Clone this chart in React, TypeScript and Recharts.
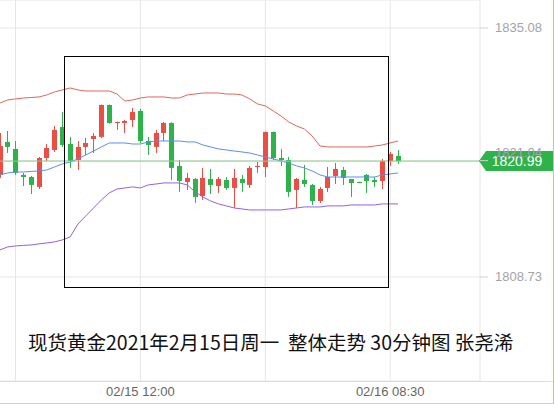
import React from 'react';
import {
  ComposedChart,
  Bar,
  Line,
  XAxis,
  YAxis,
  CartesianGrid,
  ReferenceLine,
} from 'recharts';

// 30分钟K线 (高开低收)
const opens = [
  1819.53, 1823.02, 1822.28, 1819.53, 1819.31, 1818.26, 1821.32, 1822.17, 1824.6, 1822.8,
  1821.11, 1822.49, 1823.33, 1823.55, 1826.93, 1825.03, 1825.03, 1825.34, 1826.3, 1823.12,
  1822.49, 1823.97, 1825.03, 1820.48, 1818.78, 1819.1, 1817.3, 1819.1, 1818.36, 1818.99,
  1818.15, 1819.1, 1818.47, 1820.37, 1820.37, 1824.07, 1821.32, 1821.11, 1817.94, 1818.99,
  1818.47, 1816.77, 1818.15, 1819.42, 1820.05, 1819.1, 1818.78, 1819.53, 1818.99, 1818.89,
  1821.01, 1821.54,
];
const highs = [
  1823.97, 1824.18, 1823.12, 1819.74, 1819.42, 1821.43, 1822.8, 1824.71, 1826.19, 1823.55,
  1823.12, 1823.44, 1823.97, 1826.98, 1826.98, 1825.18, 1825.34, 1826.61, 1826.51, 1823.55,
  1824.29, 1825.13, 1825.08, 1821.11, 1819.74, 1819.21, 1820.27, 1820.16, 1819.31, 1819.31,
  1820.16, 1819.53, 1820.48, 1820.9, 1824.12, 1824.12, 1822.28, 1821.43, 1819.21, 1820.58,
  1818.57, 1818.26, 1820.37, 1820.79, 1820.37, 1819.1, 1818.8, 1819.63, 1819.31, 1821.22,
  1821.96, 1822.17,
];
const lows = [
  1819.21, 1821.85, 1819.53, 1818.36, 1817.51, 1818.04, 1821.01, 1821.96, 1822.49, 1820.27,
  1820.05, 1821.64, 1821.85, 1823.44, 1824.95, 1824.29, 1823.97, 1824.6, 1822.91, 1821.64,
  1821.85, 1823.12, 1818.99, 1817.73, 1817.94, 1816.56, 1816.88, 1817.51, 1817.62, 1817.94,
  1816.03, 1817.73, 1818.15, 1819.74, 1819.31, 1821.11, 1820.48, 1817.2, 1816.03, 1818.26,
  1816.35, 1816.56, 1817.73, 1818.57, 1818.47, 1817.2, 1818.7, 1817.62, 1818.26, 1818.04,
  1820.48, 1820.69,
];
const closes = [
  1822.59, 1822.49, 1819.74, 1819.31, 1818.47, 1821.32, 1822.38, 1824.29, 1822.7, 1821.01,
  1822.49, 1822.91, 1823.65, 1826.93, 1825.03, 1825.13, 1825.24, 1826.19, 1823.12, 1822.7,
  1823.97, 1825.03, 1820.27, 1818.89, 1819.21, 1817.2, 1819.21, 1818.47, 1819.1, 1818.15,
  1819.21, 1818.68, 1820.27, 1820.48, 1824.07, 1821.32, 1821.11, 1817.73, 1819.1, 1818.57,
  1816.77, 1818.04, 1819.31, 1820.16, 1819.21, 1818.68, 1818.74, 1818.89, 1818.78, 1821.01,
  1821.75, 1820.99,
];

// 布林带
const bollUp = [
  1827.14, 1827.46, 1827.57, 1827.67, 1827.72, 1827.78, 1827.99, 1828.31, 1828.52, 1828.73,
  1828.52, 1828.41, 1828.41, 1828.41, 1828.41, 1828.09, 1827.35, 1827.46, 1827.67, 1827.78,
  1827.78, 1827.78, 1827.67, 1827.67, 1827.99, 1828.09, 1828.2, 1828.2, 1828.2, 1828.09,
  1828.09, 1827.99, 1827.57, 1827.04, 1826.83, 1826.3, 1825.77, 1825.13, 1824.71, 1824.39,
  1823.65, 1822.59, 1822.49, 1822.49, 1822.49, 1822.49, 1822.49, 1822.49, 1822.59, 1822.7,
  1822.91, 1823.12,
];
const bollMid = [
  1819.53, 1819.74, 1819.84, 1819.84, 1819.9, 1819.95, 1820.05, 1820.37, 1820.69, 1820.9,
  1821.22, 1821.64, 1822.06, 1822.49, 1822.91, 1822.91, 1822.91, 1822.8, 1822.8, 1823.02,
  1823.12, 1823.12, 1823.12, 1823.12, 1823.02, 1823.02, 1822.7, 1822.49, 1822.28, 1822.17,
  1822.06, 1821.96, 1821.85, 1821.64, 1821.43, 1821.22, 1821.01, 1820.79, 1820.48, 1820.27,
  1819.95, 1819.53, 1819.31, 1819.31, 1819.31, 1819.31, 1819.31, 1819.31, 1819.31, 1819.53,
  1819.63, 1819.74,
];
const bollDn = [
  1811.59, 1811.91, 1812.01, 1812.07, 1812.12, 1812.23, 1812.33, 1812.44, 1812.65, 1812.97,
  1814.34, 1815.19, 1816.03, 1816.88, 1817.62, 1818.04, 1818.15, 1818.26, 1818.15, 1818.47,
  1818.57, 1818.68, 1818.68, 1818.68, 1818.47, 1817.73, 1817.2, 1816.77, 1816.46, 1816.25,
  1816.03, 1815.93, 1815.82, 1815.82, 1815.82, 1815.82, 1815.82, 1815.93, 1816.03, 1816.14,
  1816.14, 1816.14, 1816.25, 1816.25, 1816.25, 1816.35, 1816.35, 1816.35, 1816.35, 1816.46,
  1816.46, 1816.46,
];

const xTicks = [2, 18, 34, 50];
const xLabels: Record<number, string> = { 18: '02/15 12:00', 50: '02/16 08:30' };
const yTicks = [1808.73, 1821.04, 1835.08];
const lastPrice = 1820.99;
const emptySlots = 10;

const RED = '#ea4e45';
const GREEN = '#2db34a';

const data = [
  ...opens.map((o, i) => ({
    i,
    o,
    h: highs[i],
    l: lows[i],
    c: closes[i],
    range: [lows[i], highs[i]],
    up: bollUp[i],
    mid: bollMid[i],
    dn: bollDn[i],
  })),
  ...Array.from({ length: emptySlots }, (_, k) => ({ i: opens.length + k })),
];

function Candle(props: any) {
  const { x, y, width, height, payload } = props;
  if (!payload || payload.o == null) return null;
  const { o, h, l, c } = payload;
  const top = Math.min(y, y + height);
  const hgt = Math.abs(height);
  const py = (v: number) => (h === l ? top : top + ((h - v) / (h - l)) * hgt);
  const color = c >= o ? RED : GREEN;
  const cx = Math.round(x + width / 2) + 0.5;
  const bTop = py(Math.max(o, c));
  const bBot = py(Math.min(o, c));
  return (
    <g>
      <line x1={cx} x2={cx} y1={top} y2={top + hgt} stroke={color} strokeWidth={1} />
      <rect x={cx - 2.5} y={bTop} width={5} height={Math.max(1, bBot - bTop)} fill={color} />
    </g>
  );
}

function YTick(props: any) {
  const { x, y, payload } = props;
  const dy = payload.value === 1821.04 ? -8 : 0;
  return (
    <text x={x} y={y + dy} dy={4.5} fill="#a3a3ab" fontSize={13} fontFamily="Liberation Sans, Arial">
      {payload.value.toFixed(2)}
    </text>
  );
}

function XTick(props: any) {
  const { x, payload } = props;
  const txt = xLabels[payload.value];
  if (!txt) return null;
  return (
    <text x={x} y={396} textAnchor="middle" fill="#666" fontSize={13} fontFamily="Liberation Sans, Arial">
      {txt}
    </text>
  );
}

function PriceTag(props: any) {
  const { viewBox } = props;
  const r = viewBox.x + viewBox.width;
  const cy = viewBox.y;
  return (
    <g>
      <polygon
        points={`${r - 1},${cy} ${r + 6},${cy - 10} ${r + 74},${cy - 10} ${r + 74},${cy + 10} ${r + 6},${cy + 10}`}
        fill={GREEN}
      />
      <text x={r + 37} y={cy + 5} textAnchor="middle" fill="#fff" fontSize={14} fontFamily="Liberation Sans, Arial">
        {lastPrice.toFixed(2)}
      </text>
    </g>
  );
}

export default function App() {
  return (
    <div style={{ position: 'absolute', left: 0, top: 0, width: 554, height: 404, overflow: 'hidden', background: '#fff' }}>
      <div style={{ position: 'absolute', left: -4, top: 0 }}>
        <ComposedChart width={558} height={404} data={data} margin={{ top: 0, right: 0, bottom: 0, left: 0 }}>
          <CartesianGrid stroke="#e6e6e6" />
          <XAxis
            dataKey="i"
            type="category"
            ticks={xTicks}
            interval={0}
            axisLine={false}
            tickLine={false}
            height={23}
            tick={<XTick />}
          />
          <YAxis
            orientation="right"
            width={74}
            domain={[1797.72, 1838.04]}
            allowDataOverflow
            ticks={yTicks}
            axisLine={false}
            tickLine={{ stroke: '#d0d0d0' }}
            tickSize={8}
            tickMargin={7}
            tick={<YTick />}
          />
          <Line dataKey="up" stroke="#e0665c" strokeWidth={1} dot={false} activeDot={false} isAnimationActive={false} />
          <Line dataKey="mid" stroke="#5b8ef5" strokeWidth={1} dot={false} activeDot={false} isAnimationActive={false} />
          <Line dataKey="dn" stroke="#9460ea" strokeWidth={1} dot={false} activeDot={false} isAnimationActive={false} />
          <ReferenceLine y={lastPrice} stroke="#86d486" strokeWidth={1} label={<PriceTag />} />
          <Bar dataKey="range" barSize={5} shape={<Candle />} activeBar={false} isAnimationActive={false} />
        </ComposedChart>
      </div>
      <div style={{ position: 'absolute', left: 64, top: 56, width: 323, height: 230, border: '1px solid #000' }} />
      <div style={{ position: 'absolute', left: 0, top: 381, width: 554, height: 1, background: '#dcdcdc' }} />
      <div style={{ position: 'absolute', left: 0, top: 403, width: 554, height: 1, background: '#cfcfcf' }} />
      <div style={{ position: 'absolute', left: 553, top: 0, width: 1, height: 404, background: '#dcb79c' }} />
      <div
        style={{
          position: 'absolute',
          left: 28,
          top: 327,
          fontSize: 19.5,
          color: '#111',
          fontFamily: '"Noto Sans CJK SC", sans-serif',
          whiteSpace: 'pre',
        }}
      >
        现货黄金2021年2月15日周一  整体走势 30分钟图 张尧浠
      </div>
    </div>
  );
}
